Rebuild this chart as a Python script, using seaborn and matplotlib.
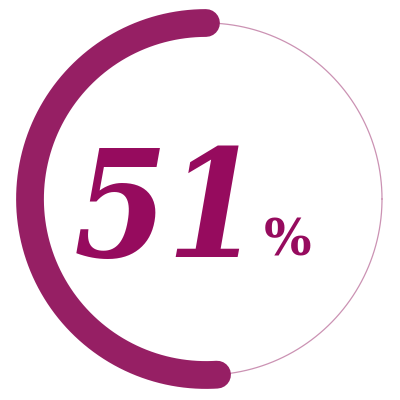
import numpy as np
import pandas as pd
import seaborn as sns
import matplotlib.pyplot as plt

# progress ring data
percent = 51
value_label = "51"
unit_label = "%"

ring_color = "#961F64"
text_color = "#960B5E"
track_color = "#CB92B3"

sns.set_theme(style="white")

fig = plt.figure(figsize=(4, 4), dpi=100)
ax = fig.add_axes([0, 0, 1, 1])

cx, cy, r = 206, 199, 176

# thin background circle
t = np.linspace(0, 2 * np.pi, 400)
track = pd.DataFrame({"x": cx + r * np.cos(t), "y": cy - r * np.sin(t)})
sns.lineplot(data=track, x="x", y="y", sort=False, estimator=None,
             color=track_color, linewidth=0.9, ax=ax)

# thick progress arc, from top going counter-clockwise
start = np.pi / 2
end = start + 2 * np.pi * percent / 100
a = np.linspace(start, end, 300)
arc = pd.DataFrame({"x": cx + r * np.cos(a), "y": cy - r * np.sin(a)})
sns.lineplot(data=arc, x="x", y="y", sort=False, estimator=None,
             color=ring_color, linewidth=20, solid_capstyle="round", ax=ax)

ax.text(168, 257, value_label, fontsize=108, family="DejaVu Serif",
        fontweight="bold", fontstyle="italic", fontstretch="condensed",
        color=text_color, ha="center", va="baseline")
ax.text(288, 256, unit_label, fontsize=36, family="DejaVu Serif",
        fontweight="bold", color=text_color, ha="center", va="baseline")

ax.set_xlim(0, 400)
ax.set_ylim(400, 0)
ax.set_aspect("equal")
ax.axis("off")

fig.savefig("out.png", dpi=100)
